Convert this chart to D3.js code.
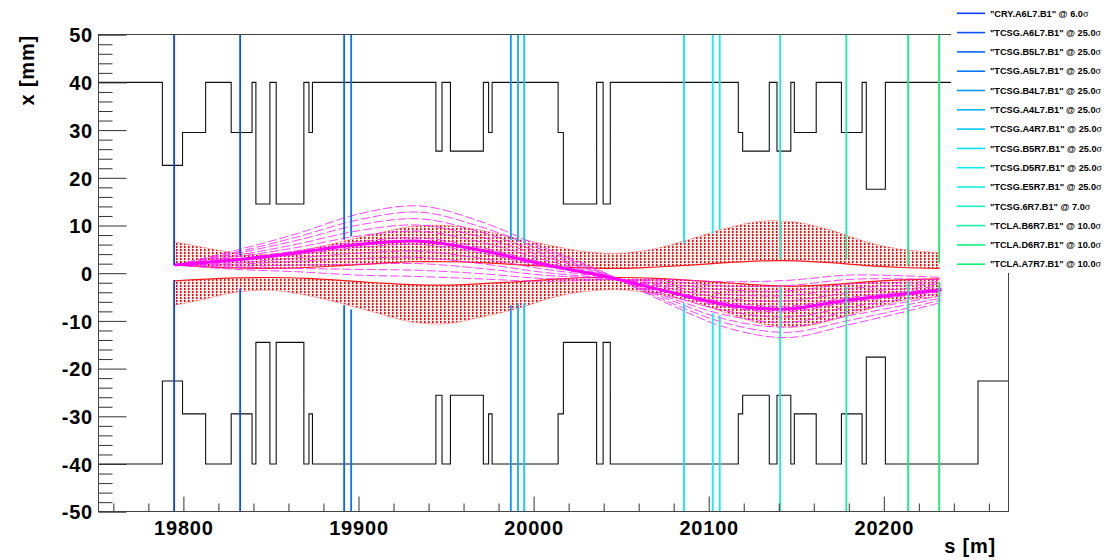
<!DOCTYPE html>
<html><head><meta charset="utf-8">
<script src="https://cdn.jsdelivr.net/npm/d3@7"></script>
<style>body{margin:0;background:#fff}svg{display:block}</style>
</head><body>
<svg id="c" width="1107" height="560"></svg>
<script>
// ---------------- DATA ----------------
const collimatorNames = ["CRY.A6L7.B1","TCSG.A6L7.B1","TCSG.B5L7.B1","TCSG.A5L7.B1","TCSG.B4L7.B1","TCSG.A4L7.B1","TCSG.A4R7.B1","TCSG.B5R7.B1","TCSG.D5R7.B1","TCSG.E5R7.B1","TCSG.6R7.B1","TCLA.B6R7.B1","TCLA.D6R7.B1","TCLA.A7R7.B1"];
const collimatorSigma = ["6.0","25.0","25.0","25.0","25.0","25.0","25.0","25.0","25.0","25.0","7.0","10.0","10.0","10.0"];
const collimatorS = [19794.7,19832.4,19891.8,19895.8,19987.0,19991.1,19994.6,20085.9,20102.3,20106.3,20140.8,20178.6,20213.9,20231.6];
const jawUpper = [1.7,3.8,7.0,7.7,7.0,6.6,6.3,6.3,8.4,9.1,2.8,2.8,1.7,2.1];
const jawLower = [-1.4,-3.2,-6.7,-7.6,-6.7,-6.3,-6.3,-6.3,-8.4,-8.8,-2.8,-2.8,-1.8,-1.8];

const apertureS = [19751.4,19788.0,19799.5,19812.7,19827.3,19839.2,19841.4,19849.4,19853.0,19868.8,19871.7,19873.7,19944.2,19947.7,19952.5,19971.3,19974.3,19976.3,20014.0,20017.0,20036.0,20039.7,20043.8,20116.9,20119.4,20134.6,20139.0,20146.9,20148.9,20161.4,20175.8,20187.6,20190.0,20200.9,20253.8,20271.1];
const apertureHalf = [40,22.6,29.5,40,29.5,40,14.5,40,14.5,40,29.5,40,25.6,40,25.6,40,29.5,40,29.5,14.5,40,14.5,40,29.5,25.6,40,25.6,40,29.5,40,29.5,40,17.6,40,22.6,22.6];

const envS = [19795,19810,19830,19850,19870,19890,19910,19930,19950,19970,19990,20010,20030,20050,20070,20090,20110,20130,20150,20170,20190,20210,20232];
const envUpperOuter = [6.6,5.5,4.3,4.0,5.0,6.6,8.3,9.8,10.0,9.0,7.4,5.8,4.5,4.2,5.2,7.2,9.4,10.9,10.7,9.0,6.6,5.0,4.3];
const envUpperInner = [1.7,1.4,1.1,1.0,1.2,1.6,2.0,2.4,2.4,2.2,1.8,1.4,1.1,1.0,1.3,1.7,2.2,2.6,2.6,2.2,1.6,1.2,1.0];
const envLowerInner = [-1.6,-1.3,-1.0,-0.9,-1.1,-1.5,-2.0,-2.4,-2.5,-2.2,-1.8,-1.3,-0.9,-0.9,-1.1,-1.5,-2.0,-2.5,-2.7,-2.4,-1.8,-1.4,-1.2];
const envLowerOuter = [-6.7,-5.6,-4.0,-3.6,-4.6,-6.3,-8.3,-10.2,-10.6,-9.2,-7.5,-5.2,-3.8,-3.5,-4.4,-6.0,-8.3,-10.6,-11.3,-9.9,-7.7,-5.8,-4.9];

const trajS = [19795,19830,19865,19900,19935,19970,20005,20040,20075,20110,20145,20180,20215,20233];
const trajCenter = [1.7,2.8,4.3,6.0,6.7,4.8,1.9,-0.6,-3.7,-6.6,-7.5,-5.6,-4.2,-3.5];
const trajectories = [
  [1.7,4.8,8.3,12.4,14.1,10.8,5.5,0.2,-6.1,-11.4,-13.5,-10.8,-7.8,-6.1],
  [1.7,4.4,7.6,11.2,12.8,9.7,4.9,0.1,-5.7,-10.5,-12.4,-9.9,-7.2,-5.6],
  [1.7,4.1,6.9,10.1,11.4,8.6,4.2,-0.1,-5.2,-9.7,-11.3,-8.9,-6.5,-5.2],
  [1.7,3.7,6.1,8.9,10.1,7.6,3.6,-0.2,-4.8,-8.8,-10.3,-8.0,-5.9,-4.7],
  [1.7,3.4,5.4,7.8,8.8,6.5,2.9,-0.4,-4.4,-7.9,-9.2,-7.1,-5.2,-4.2],
  [1.7,3.0,4.7,6.6,7.4,5.4,2.3,-0.5,-3.9,-7.1,-8.1,-6.1,-4.6,-3.8],
  [1.7,2.6,3.9,5.4,6.0,4.2,1.5,-0.7,-3.5,-6.1,-6.9,-5.1,-3.8,-3.2],
  [1.7,2.2,3.2,4.2,4.6,3.1,0.9,-0.8,-3.0,-5.3,-5.8,-4.1,-3.2,-2.8],
  [1.7,1.9,2.5,3.1,3.3,2.0,0.2,-1.0,-2.6,-4.4,-4.7,-3.2,-2.5,-2.3],
  [1.7,1.5,1.7,1.9,2.0,1.0,-0.4,-1.1,-2.2,-3.5,-3.7,-2.3,-1.9,-1.8],
  [1.7,1.2,1.0,0.8,0.6,-0.1,-1.1,-1.3,-1.7,-2.7,-2.6,-1.3,-1.2,-1.4],
  [1.7,0.8,0.3,-0.4,-0.7,-1.2,-1.7,-1.4,-1.3,-1.8,-1.5,-0.4,-0.6,-0.9]
];

const xMajorTicks = [19800,19900,20000,20100,20200];
const xMinorTicks = [19760,19780,19820,19840,19860,19880,19920,19940,19960,19980,20020,20040,20060,20080,20120,20140,20160,20180,20220,20240,20260];
const yMajorTicks = [-50,-40,-30,-20,-10,0,10,20,30,40,50];
const yMinorTicks = [-48,-46,-44,-42,-38,-36,-34,-32,-28,-26,-24,-22,-18,-16,-14,-12,-8,-6,-4,-2,2,4,6,8,12,14,16,18,22,24,26,28,32,34,36,38,42,44,46,48];

// ---------------- STYLE ----------------
const colColors = ["#0a3cff","#0a50ff","#0a62ff","#0a76ff","#0a98ff","#0ab2ff","#0acaff","#0ae2ff","#10f0f2","#10f0e2","#18f0c8","#18f0a6","#12f084","#12f070"];
const FONT = "'Liberation Sans', Arial, Helvetica, sans-serif";

const svg = d3.select("#c");
const x = d3.scaleLinear().domain([19751.4, 20271.1]).range([98.3, 1008.3]);
const y = d3.scaleLinear().domain([-50, 50]).range([511.7, 34.7]);

const defs = svg.append("defs");
const pat = defs.append("pattern").attr("id","hatch").attr("patternUnits","userSpaceOnUse")
  .attr("width",4).attr("height",3);
pat.append("rect").attr("x",0).attr("y",0).attr("width",1.6).attr("height",2.2).attr("fill","#ff0000");
defs.append("clipPath").attr("id","frameClip").append("rect")
  .attr("x",98.3).attr("y",34.7).attr("width",910).attr("height",477);

const plot = svg.append("g").attr("clip-path","url(#frameClip)");

// aperture (upper and lower)
const apData = apertureS.map((s,i)=>({s, v: apertureHalf[i]}));
const apLine = sign => d3.line().x(d=>x(d.s)).y(d=>y(sign*d.v)).curve(d3.curveStepAfter);
plot.append("path").datum(apData).attr("d", apLine(1)).attr("fill","none").attr("stroke","#111").attr("stroke-width",1.1);
plot.append("path").datum(apData).attr("d", apLine(-1)).attr("fill","none").attr("stroke","#111").attr("stroke-width",1.1);

// beam envelope hatched bands
const envData = envS.map((s,i)=>({s, uo:envUpperOuter[i], ui:envUpperInner[i], li:envLowerInner[i], lo:envLowerOuter[i]}));
const cur = d3.curveCatmullRom.alpha(0.5);
plot.append("path").datum(envData).attr("d", d3.area().x(d=>x(d.s)).y0(d=>y(d.ui)).y1(d=>y(d.uo)).curve(cur))
  .attr("fill","url(#hatch)");
plot.append("path").datum(envData).attr("d", d3.area().x(d=>x(d.s)).y0(d=>y(d.li)).y1(d=>y(d.lo)).curve(cur))
  .attr("fill","url(#hatch)");
["ui","li"].forEach(k=>{
  plot.append("path").datum(envData).attr("d", d3.line().x(d=>x(d.s)).y(d=>y(d[k])).curve(cur))
    .attr("fill","none").attr("stroke","#ff1a1a").attr("stroke-width",1.2);
});
["uo","lo"].forEach(k=>{
  plot.append("path").datum(envData).attr("d", d3.line().x(d=>x(d.s)).y(d=>y(d[k])).curve(cur))
    .attr("fill","none").attr("stroke","#ff7070").attr("stroke-width",0.8).attr("stroke-dasharray","2,1");
});

// channelled trajectories
const tLine = d3.line().x((d,i)=>x(trajS[i])).y(d=>y(d)).curve(cur);
trajectories.forEach(t=>{
  plot.append("path").datum(t).attr("d", tLine).attr("fill","none")
    .attr("stroke","#ff22ff").attr("stroke-width",1).attr("stroke-dasharray","9,3").attr("opacity",0.85);
});
plot.append("path").datum(trajCenter).attr("d", tLine).attr("fill","none")
  .attr("stroke","#ff00ff").attr("stroke-width",3);

// collimator lines
collimatorS.forEach((s,i)=>{
  const g = plot.append("g").attr("stroke",colColors[i]).attr("stroke-width",1.8);
  g.append("line").attr("x1",x(s)).attr("x2",x(s)).attr("y1",y(50)).attr("y2",y(jawUpper[i]));
  g.append("line").attr("x1",x(s)).attr("x2",x(s)).attr("y1",y(jawLower[i])).attr("y2",y(-50));
});

// frame
svg.append("rect").attr("x",98.5).attr("y",34.5).attr("width",910).attr("height",477)
  .attr("fill","none").attr("stroke","#444").attr("stroke-width",1);

// axes
const fmt = d => String(d);
const axisG = svg.append("g").attr("font-family",FONT);
const yMaj = axisG.append("g").attr("transform","translate(98.5,0)")
  .call(d3.axisLeft(y).tickValues(yMajorTicks).tickSize(-28).tickPadding(5.5).tickFormat(fmt));
const yMin = axisG.append("g").attr("transform","translate(98.5,0)")
  .call(d3.axisLeft(y).tickValues(yMinorTicks).tickSize(-14).tickFormat(""));
const xMaj = axisG.append("g").attr("transform","translate(0,511.5)")
  .call(d3.axisBottom(x).tickValues(xMajorTicks).tickSize(-15).tickPadding(9).tickFormat(fmt));
const xMin = axisG.append("g").attr("transform","translate(0,511.5)")
  .call(d3.axisBottom(x).tickValues(xMinorTicks).tickSize(-8).tickFormat(""));
[yMaj,yMin,xMaj,xMin].forEach(g=>{
  g.select(".domain").remove();
  g.selectAll(".tick line").attr("stroke","#333").attr("stroke-width",1);
  g.selectAll("text").attr("font-family",FONT).attr("font-weight","bold").attr("font-size",20)
    .attr("letter-spacing","0.8px").attr("fill","#000");
});
yMaj.selectAll("text").attr("dy","0.36em");

// axis titles
svg.append("text").attr("transform","translate(33.5,35) rotate(-90)").attr("text-anchor","end")
  .attr("font-family",FONT).attr("font-weight","bold").attr("font-size",20).attr("letter-spacing","0.8px")
  .text("x [mm]");
svg.append("text").attr("x",996).attr("y",553).attr("text-anchor","end")
  .attr("font-family",FONT).attr("font-weight","bold").attr("font-size",20).attr("letter-spacing","0.8px")
  .text("s [m]");

// legend
const leg = svg.append("g");
leg.append("rect").attr("x",951).attr("y",0).attr("width",156).attr("height",273).attr("fill","#fff");
collimatorNames.forEach((n,i)=>{
  const yy = 13.3 + 19.3*i;
  leg.append("line").attr("x1",957).attr("x2",985).attr("y1",yy).attr("y2",yy)
    .attr("stroke",colColors[i]).attr("stroke-width",1.6);
  const t = leg.append("text").attr("x",990).attr("y",yy).attr("dy","0.35em")
    .attr("font-family",FONT).attr("font-weight","bold").attr("font-size",9.2).attr("fill","#000");
  t.append("tspan").text("\"" + n + "\" @ " + collimatorSigma[i]);
  t.append("tspan").attr("font-family","'Liberation Serif','DejaVu Serif',serif").attr("font-weight","normal")
    .attr("font-size",10).text("σ");
});
</script>
</body></html>
